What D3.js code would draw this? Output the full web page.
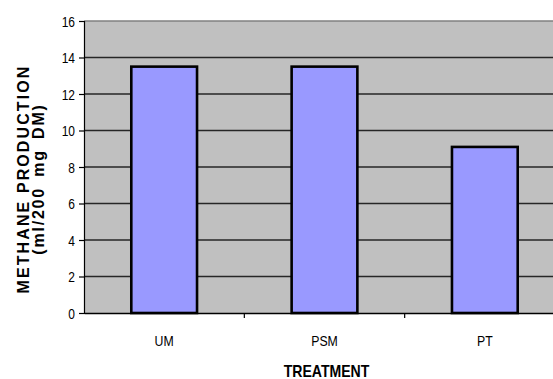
<!DOCTYPE html>
<html>
<head>
<meta charset="utf-8">
<script src="https://cdn.jsdelivr.net/npm/d3@7"></script>
<style>
  html, body { margin: 0; padding: 0; background: #fff; }
  svg { display: block; }
  text { font-family: "Liberation Sans", Arial, sans-serif; fill: #000; }
</style>
</head>
<body>
<svg id="chart" width="553" height="379"></svg>
<script>
// Methane production per treatment
const categories = ["UM", "PSM", "PT"];
const methane = [13.5, 13.5, 9.1];
const yTicks = [0, 2, 4, 6, 8, 10, 12, 14, 16];

const plot = { left: 84, top: 21, right: 565, bottom: 313 };
const condensed = 0.8;

const svg = d3.select("#chart");

const x = d3.scaleBand()
  .domain(categories)
  .range([plot.left, plot.right])
  .paddingInner(0)
  .paddingOuter(0);

const y = d3.scaleLinear()
  .domain([0, 16])
  .range([plot.bottom, plot.top]);

// plot background
svg.append("rect")
  .attr("x", plot.left).attr("y", plot.top)
  .attr("width", plot.right - plot.left)
  .attr("height", plot.bottom - plot.top)
  .attr("fill", "#c0c0c0");

// top border of plot area
svg.append("line")
  .attr("x1", plot.left).attr("x2", plot.right)
  .attr("y1", y(16)).attr("y2", y(16))
  .attr("stroke", "#808080").attr("stroke-width", 1.6);

// horizontal gridlines
svg.append("g")
  .selectAll("line")
  .data(yTicks.filter(d => d > 0 && d < 16))
  .join("line")
  .attr("x1", plot.left).attr("x2", plot.right)
  .attr("y1", d => y(d)).attr("y2", d => y(d))
  .attr("stroke", "#262626").attr("stroke-width", 1.3);

// bars
const barW = x.bandwidth() * 0.41;
svg.append("g")
  .selectAll("rect")
  .data(categories.map((c, i) => ({ c, v: methane[i] })))
  .join("rect")
  .attr("x", d => x(d.c) + x.bandwidth() / 2 - barW / 2)
  .attr("y", d => y(d.v))
  .attr("width", barW)
  .attr("height", d => y(0) - y(d.v))
  .attr("fill", "#9999ff")
  .attr("stroke", "#000")
  .attr("stroke-width", 2.6);

// y axis
const yAxis = d3.axisLeft(y)
  .tickValues(yTicks)
  .tickSize(5)
  .tickFormat(d3.format("d"));
const gy = svg.append("g")
  .attr("transform", `translate(${plot.left},0)`)
  .call(yAxis);
gy.select(".domain").attr("stroke", "#000").attr("stroke-width", 1.2);
gy.selectAll(".tick line").attr("stroke", "#000").attr("stroke-width", 1.2);
gy.selectAll(".tick text")
  .attr("x", 0)
  .attr("dy", "0.36em")
  .attr("transform", `translate(-9,0) scale(${condensed},1)`)
  .attr("font-size", 15)
  .style("font-family", '"Liberation Sans", Arial, sans-serif');

// x axis
const xAxis = d3.axisBottom(x).tickSize(0).tickPadding(0);
const gx = svg.append("g")
  .attr("transform", `translate(0,${plot.bottom})`)
  .call(xAxis);
gx.select(".domain").attr("stroke", "#000").attr("stroke-width", 1.5);
gx.selectAll(".tick text")
  .attr("y", 0)
  .attr("dy", 0)
  .attr("transform", `translate(0,33) scale(0.82,1)`)
  .attr("font-size", 15)
  .style("font-family", '"Liberation Sans", Arial, sans-serif');

// category separator ticks below the axis
svg.append("g")
  .selectAll("line")
  .data(categories.slice(1))
  .join("line")
  .attr("x1", d => x(d)).attr("x2", d => x(d))
  .attr("y1", plot.bottom).attr("y2", plot.bottom + 5)
  .attr("stroke", "#000").attr("stroke-width", 1.2);

// x axis title
svg.append("text")
  .attr("transform", `translate(${(plot.left + plot.right) / 2 + 2},377) scale(0.88,1)`)
  .attr("text-anchor", "middle")
  .attr("font-size", 16)
  .attr("font-weight", "bold")
  .text("TREATMENT");

// y axis title (two lines)
const yTitle = svg.append("g")
  .attr("transform", `translate(0,${(plot.top + plot.bottom) / 2 + 12}) rotate(-90)`);
yTitle.append("text")
  .attr("x", 0).attr("y", 29)
  .attr("text-anchor", "middle")
  .attr("font-size", 16)
  .attr("font-weight", "bold")
  .attr("letter-spacing", 2.1)
  .text("METHANE PRODUCTION");
yTitle.append("text")
  .attr("x", 0).attr("y", 44)
  .attr("text-anchor", "middle")
  .attr("font-size", 16)
  .attr("font-weight", "bold")
  .attr("letter-spacing", 1.8)
  .attr("word-spacing", 4)
  .text("(ml/200 mg DM)");
</script>
</body>
</html>
